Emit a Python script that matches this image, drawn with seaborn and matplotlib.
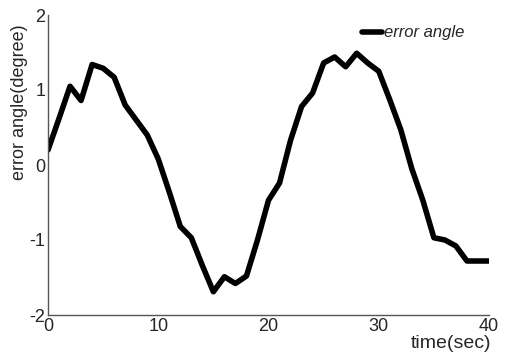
import matplotlib
matplotlib.use("Agg")
import matplotlib.pyplot as plt
import seaborn as sns
import pandas as pd

time_sec = list(range(0, 41))
error_angle = [0.20, 0.62, 1.05, 0.86, 1.34, 1.29, 1.17, 0.80, 0.60, 0.40, 0.08,
               -0.36, -0.82, -0.97, -1.34, -1.69, -1.49, -1.58, -1.48, -1.00, -0.47,
               -0.24, 0.33, 0.78, 0.96, 1.36, 1.44, 1.31, 1.49, 1.36, 1.25,
               0.87, 0.47, -0.05, -0.47, -0.97, -1.00, -1.08, -1.28, -1.28, -1.28]
x_ticks = [0, 10, 20, 30, 40]
y_ticks = [-2, -1, 0, 1, 2]

df = pd.DataFrame({"time(sec)": time_sec, "error angle": error_angle})

sns.set_style("white")
plt.rcParams['font.family'] = ['Liberation Sans', 'DejaVu Sans']
plt.rcParams['axes.unicode_minus'] = False

fig = plt.figure(figsize=(5.06, 3.55), dpi=100)
ax = fig.add_axes([48/506, 1-315/355, (489-48)/506, 300/355])
sns.lineplot(data=df, x="time(sec)", y="error angle", color="black",
             linewidth=4, ax=ax, label="error angle")

ax.set_xlim(0, 40)
ax.set_ylim(-2, 2)
ax.set_xticks(x_ticks)
ax.set_yticks(y_ticks)
ax.tick_params(direction="in", length=4, width=0.8, color="#888888",
               labelsize=13, pad=2)
for s in ["top", "right"]:
    ax.spines[s].set_visible(False)
for s in ["left", "bottom"]:
    ax.spines[s].set_color("#555555")
    ax.spines[s].set_linewidth(1.0)

ax.set_xlabel("time(sec)", fontsize=14)
ax.xaxis.set_label_coords(1.005, -0.068)
ax.xaxis.label.set_horizontalalignment("right")
ax.xaxis.label.set_verticalalignment("top")
ax.set_ylabel("error angle(degree)", fontsize=13)
ax.yaxis.set_label_coords((28-48)/441, 0.71)

leg = ax.legend(loc="center left", bbox_to_anchor=((362-48)/441, 1-(33-15)/300),
                frameon=False, handlelength=1.2, handletextpad=0.1,
                borderaxespad=0, borderpad=0,
                prop={"style": "italic", "size": 12})
for line in leg.get_lines():
    line.set_linewidth(4)

fig.savefig("out.png", dpi=100)
